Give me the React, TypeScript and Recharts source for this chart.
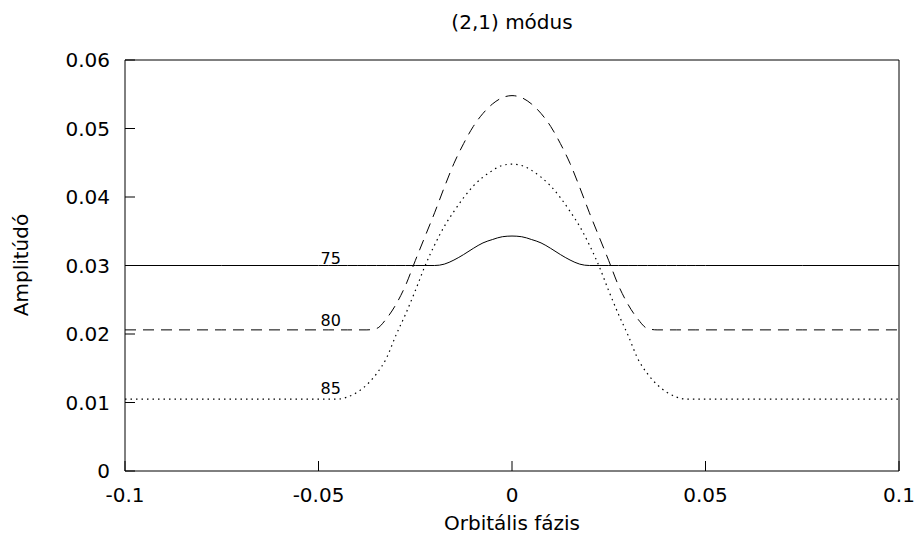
import React from "react"
import { LineChart, Line, XAxis, YAxis, ReferenceDot } from "recharts"

const FONT = "'DejaVu Sans', sans-serif"
const INK = "#000"

// orbital phase samples (denser across the hump)
const phase = [
  -0.1, -0.075, -0.05, -0.0475, -0.045, -0.0425, -0.04, -0.0375, -0.035, -0.0325,
  -0.03, -0.0275, -0.025, -0.0225, -0.02, -0.0175, -0.015, -0.0125, -0.01, -0.0075,
  -0.005, -0.0025, 0, 0.0025, 0.005, 0.0075, 0.01, 0.0125, 0.015, 0.0175,
  0.02, 0.0225, 0.025, 0.0275, 0.03, 0.0325, 0.035, 0.0375, 0.04, 0.0425,
  0.045, 0.0475, 0.05, 0.075, 0.1,
]

// amplitude, inclination 75 (solid)
const amp75 = [
  0.03, 0.03, 0.03, 0.03, 0.03, 0.03, 0.03, 0.03, 0.03, 0.03,
  0.03, 0.03, 0.03, 0.03, 0.03, 0.0302, 0.0308, 0.0316, 0.0325, 0.0333,
  0.0338, 0.0342, 0.0343, 0.0342, 0.0338, 0.0333, 0.0325, 0.0316, 0.0308, 0.0302,
  0.03, 0.03, 0.03, 0.03, 0.03, 0.03, 0.03, 0.03, 0.03, 0.03,
  0.03, 0.03, 0.03, 0.03, 0.03,
]

// amplitude, inclination 80 (dashed)
const amp80 = [
  0.0206, 0.0206, 0.0206, 0.0206, 0.0206, 0.0206, 0.0206, 0.0206, 0.0208, 0.0222,
  0.0243, 0.0271, 0.0307, 0.0342, 0.0377, 0.0414, 0.0449, 0.0478, 0.0503, 0.0522,
  0.0536, 0.0545, 0.0548, 0.0545, 0.0536, 0.0522, 0.0503, 0.0478, 0.0449, 0.0414,
  0.0377, 0.0342, 0.0307, 0.0271, 0.0243, 0.0222, 0.0208, 0.0206, 0.0206, 0.0206,
  0.0206, 0.0206, 0.0206, 0.0206, 0.0206,
]

// amplitude, inclination 85 (dotted)
const amp85 = [
  0.0105, 0.0105, 0.0105, 0.0105, 0.0105, 0.0108, 0.0115, 0.0126, 0.0142, 0.0164,
  0.0198, 0.0229, 0.0263, 0.0299, 0.033, 0.0357, 0.0379, 0.0399, 0.0416, 0.0429,
  0.0439, 0.0446, 0.0448, 0.0446, 0.0439, 0.0429, 0.0416, 0.0399, 0.0379, 0.0357,
  0.033, 0.0299, 0.0263, 0.0229, 0.0198, 0.0164, 0.0142, 0.0126, 0.0115, 0.0108,
  0.0105, 0.0105, 0.0105, 0.0105, 0.0105,
]

const xTicks = [-0.1, -0.05, 0, 0.05, 0.1]
const yTicks = [0, 0.01, 0.02, 0.03, 0.04, 0.05, 0.06]

const curveNames = ["75", "80", "85"]
const nameX = -0.05
const nameY = [0.031, 0.022, 0.012]

const rows = phase.map((x, i) => ({ x, a75: amp75[i], a80: amp80[i], a85: amp85[i] }))

const tickStyle = { fill: INK, fontSize: 20, fontFamily: FONT }

// eslint-disable-next-line @typescript-eslint/no-explicit-any
function NameTag({ cx, cy, text }: any) {
  return (
    <text x={cx + 2} y={cy} fontSize={16} fontFamily={FONT} fill={INK} dominantBaseline="central">
      {text}
    </text>
  )
}

export default function App() {
  return (
    <div style={{ position: "absolute", left: 0, top: 0, width: 917, height: 541, background: "#fff" }}>
      <LineChart width={917} height={541} data={rows} margin={{ top: 59, right: 17, bottom: 40, left: 65 }}>
        <XAxis
          dataKey="x" type="number" domain={[-0.1, 0.1]} ticks={xTicks} allowDataOverflow
          tick={tickStyle} tickSize={-10} tickMargin={27} height={30}
          axisLine={{ stroke: INK }} tickLine={{ stroke: INK }}
        />
        <XAxis
          xAxisId="top" orientation="top" dataKey="x" type="number" domain={[-0.1, 0.1]} ticks={xTicks}
          allowDataOverflow tick={false} tickSize={-10} height={1}
          axisLine={{ stroke: INK }} tickLine={{ stroke: INK }}
        />
        <YAxis
          type="number" domain={[0, 0.06]} ticks={yTicks} allowDataOverflow
          tick={tickStyle} tickSize={-10} tickMargin={25} width={60}
          axisLine={{ stroke: INK }} tickLine={{ stroke: INK }}
        />
        <YAxis
          yAxisId="right" orientation="right" type="number" domain={[0, 0.06]} ticks={yTicks}
          allowDataOverflow tick={false} tickSize={-10} width={1}
          axisLine={{ stroke: INK }} tickLine={{ stroke: INK }}
        />

        <Line type="monotone" dataKey="a75" stroke={INK} strokeWidth={1} dot={false} isAnimationActive={false} />
        <Line type="monotone" dataKey="a80" stroke={INK} strokeWidth={1} strokeDasharray="11 7" dot={false} isAnimationActive={false} />
        <Line type="monotone" dataKey="a85" stroke={INK} strokeWidth={1.2} strokeDasharray="1.5 4" dot={false} isAnimationActive={false} />

        {curveNames.map((name, i) => (
          <ReferenceDot
            key={name} x={nameX} y={nameY[i]} r={0} ifOverflow="visible"
            shape={(p: { cx: number; cy: number }) => <NameTag cx={p.cx} cy={p.cy} text={name} />}
          />
        ))}
      </LineChart>

      <svg width={917} height={541} style={{ position: "absolute", left: 0, top: 0, pointerEvents: "none" }}>
        <text x={512} y={22} textAnchor="middle" dominantBaseline="central" fontSize={20} fontFamily={FONT} fill={INK}>
          (2,1) módus
        </text>
        <text x={512} y={523} textAnchor="middle" dominantBaseline="central" fontSize={20} fontFamily={FONT} fill={INK}>
          Orbitális fázis
        </text>
        <text x={21} y={265} textAnchor="middle" dominantBaseline="central" fontSize={20} fontFamily={FONT} fill={INK}
          transform="rotate(-90 21 265)">
          Amplitúdó
        </text>
      </svg>
    </div>
  )
}
